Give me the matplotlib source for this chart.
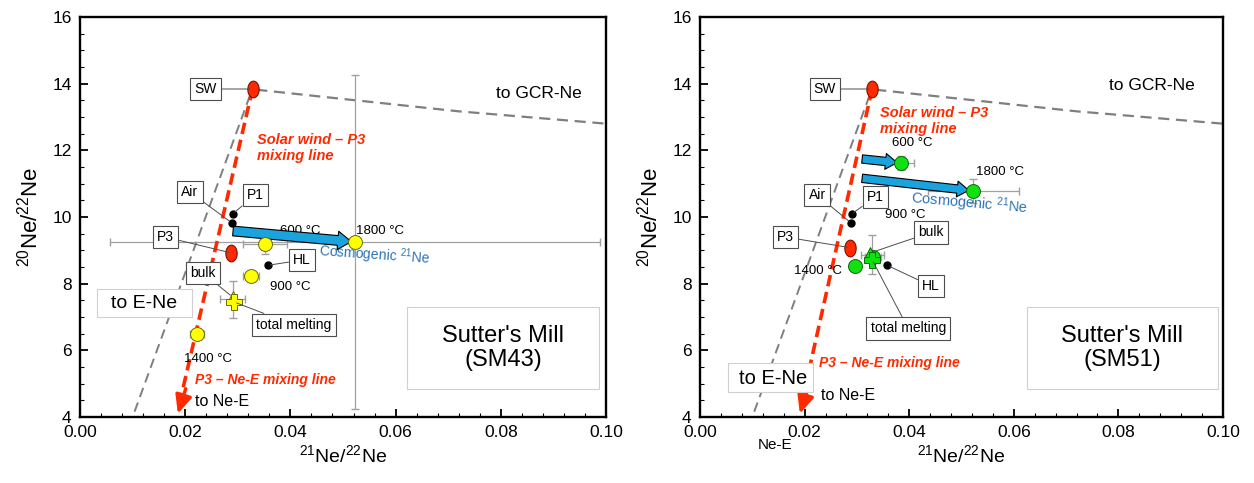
import numpy as np
import matplotlib.pyplot as plt
from matplotlib.path import Path
from matplotlib.patches import Rectangle
from matplotlib.ticker import MultipleLocator, FormatStrFormatter

plt.rcParams['font.family'] = ['Liberation Sans', 'DejaVu Sans']
plt.rcParams['mathtext.default'] = 'regular'

# ---- data (21Ne/22Ne, 20Ne/22Ne) ----
# end-members: SW, Air, P1, P3, HL
em_names = ['SW', 'Air', 'P1', 'P3', 'HL']
em_x_sm43 = [0.0328, 0.0289, 0.0290, 0.0288, 0.0357]
em_y_sm43 = [13.84, 9.82, 10.09, 8.92, 8.55]
em_x_sm51 = [0.0329, 0.0289, 0.0290, 0.0287, 0.0358]
em_y_sm51 = [13.84, 9.82, 10.09, 9.08, 8.55]

# stepwise heating, SM43
steps = ['600 °C', '900 °C', '1400 °C', '1800 °C']
x_sm43 = [0.0352, 0.0325, 0.0222, 0.0523]
y_sm43 = [9.19, 8.22, 6.48, 9.25]
xerr_sm43 = [0.0042, 0.0015, 0.0013, 0.0466]
yerr_sm43 = [0.30, 0.12, 0.10, 5.00]

# stepwise heating, SM51
x_sm51 = [0.0384, 0.0331, 0.0296, 0.0522]
y_sm51 = [11.62, 8.80, 8.53, 10.78]
xerr_sm51 = [0.0025, 0.0015, 0.0012, 0.0087]
yerr_sm51 = [0.20, 0.15, 0.12, 0.35]

# bulk and total melting
bulk_sm43 = [0.0290, 7.60]
melt_sm43 = [0.0293, 7.45]
bulk_err_sm43 = [0.0023, 0.55]
bulk_sm51 = [0.0325, 8.92]
melt_sm51 = [0.0329, 8.72]
bulk_err_sm51 = [0.0022, 0.58]

# trend lines
gcr_x = [0.0335, 0.072, 0.100]
gcr_y = [13.82, 13.17, 12.80]
nee_tip_sm43 = [0.0186, 4.10]
nee_tip_sm51 = [0.0191, 4.10]
ene_end = [0.0100, 4.00]

# cosmogenic shift arrows
cosmo_start_sm43 = [[0.0291, 9.58]]
cosmo_end_sm43 = [[0.0516, 9.26]]
cosmo_start_sm51 = [[0.0310, 11.74], [0.0310, 11.16]]
cosmo_end_sm51 = [[0.0377, 11.63], [0.0514, 10.80]]

RED = '#ff2a00'
BLUE_TXT = '#2e75b6'
BLUE_ARR = '#1aa3dc'
YELLOW = '#ffff00'
GREEN = '#11e011'
GREY = '#7f7f7f'
LEAD = '#4d4d4d'

t = np.linspace(0, 2 * np.pi, 60)
ellipse = Path(np.column_stack([0.68 * np.cos(t), np.sin(t)]), closed=True)

fig = plt.figure(figsize=(12.54, 4.83), dpi=100)
ax1 = fig.add_axes([80 / 1254, 66 / 483, 526 / 1254, 400 / 483])
ax2 = fig.add_axes([700 / 1254, 66 / 483, 523 / 1254, 400 / 483])


def boxlabel(ax, text, xytext, xy, fs=10):
    ax.annotate(text, xy=xy, xytext=xytext, ha='center', va='center', fontsize=fs,
                bbox=dict(boxstyle='square,pad=0.3', fc='white', ec=LEAD, lw=0.8),
                arrowprops=dict(arrowstyle='-', color=LEAD, lw=0.7, shrinkA=0, shrinkB=2),
                zorder=6)


def base(ax, emx, emy, tip):
    ax.set_xlim(0, 0.1)
    ax.set_ylim(4, 16)
    ax.xaxis.set_major_locator(MultipleLocator(0.02))
    ax.xaxis.set_minor_locator(MultipleLocator(0.004))
    ax.yaxis.set_major_locator(MultipleLocator(2))
    ax.yaxis.set_minor_locator(MultipleLocator(0.5))
    ax.xaxis.set_major_formatter(FormatStrFormatter('%.2f'))
    ax.tick_params(which='major', direction='in', length=6, width=1.3, labelsize=12.5, pad=6)
    ax.tick_params(which='minor', direction='in', length=3, width=0.8)
    for s in ax.spines.values():
        s.set_linewidth(1.7)
    ax.set_xlabel('$^{21}$Ne/$^{22}$Ne', fontsize=14, labelpad=3)
    ax.set_ylabel('$^{20}$Ne/$^{22}$Ne', fontsize=16, labelpad=7)

    sw = (emx[0], emy[0])
    # grey trend lines
    ax.plot([sw[0] - 0.0005, ene_end[0]], [sw[1] - 0.2, ene_end[1]], ls=(0, (5, 3)),
            color=GREY, lw=1.4, zorder=1, clip_on=False)
    ax.plot(gcr_x, gcr_y, ls=(0, (5, 3)), color=GREY, lw=1.6, zorder=1)
    # red mixing line SW - P3 - Ne-E
    ax.plot([sw[0], tip[0] + 0.0006], [sw[1], tip[1] + 0.5], ls=(0, (3.2, 1.6)),
            color=RED, lw=2.6, zorder=3)
    ax.annotate('', xy=tip, xytext=(tip[0] + 0.0015, tip[1] + 0.75),
                arrowprops=dict(arrowstyle='-|>,head_length=1.1,head_width=0.5',
                                color=RED, lw=2.4, shrinkA=0, shrinkB=0), zorder=3)
    # end-members
    ax.plot(emx[1:3] + [emx[4]], emy[1:3] + [emy[4]], 'o', ms=5, color='black', zorder=5)
    ax.plot([emx[0], emx[3]], [emy[0], emy[3]], ls='none', marker=ellipse, ms=12,
            mfc=RED, mec='#7a1000', mew=0.8, zorder=5)
    boxlabel(ax, 'SW', (sw[0] - 0.009, sw[1]), sw)


def cosmo_arrows(ax, starts, ends, ms):
    for s, e in zip(starts, ends):
        ax.annotate('', xy=e, xytext=s,
                    arrowprops=dict(arrowstyle='simple,head_length=0.7,head_width=0.95,tail_width=0.5',
                                    fc=BLUE_ARR, ec='black', lw=0.8, mutation_scale=ms,
                                    shrinkA=0, shrinkB=0), zorder=4)


def mill_box(ax, name, x0, x1):
    ax.add_patch(Rectangle((x0, 4.84), x1 - x0, 2.46, fc='white', ec='#d0d0d0', lw=0.8, zorder=1))
    ax.text((x0 + x1) / 2, 6.07, "Sutter's Mill\n(" + name + ')', ha='center', va='center',
            fontsize=17, linespacing=1.15)


sol_kw = dict(color=RED, fontsize=10.5, fontweight='bold', fontstyle='italic')
nee_kw = dict(color=RED, fontsize=10, fontweight='bold', fontstyle='italic')

# ---------------- SM43 ----------------
ax = ax1
base(ax, em_x_sm43, em_y_sm43, nee_tip_sm43)
ax.errorbar(x_sm43, y_sm43, xerr=xerr_sm43, yerr=yerr_sm43, fmt='none', ecolor='#a0a0a0',
            elinewidth=0.9, capsize=3, zorder=2)
ax.errorbar([bulk_sm43[0]], [bulk_sm43[1] - 0.07], xerr=bulk_err_sm43[0], yerr=bulk_err_sm43[1],
            fmt='none', ecolor='#a0a0a0', elinewidth=0.9, capsize=3, zorder=2)
cosmo_arrows(ax, cosmo_start_sm43, cosmo_end_sm43, 14)
ax.plot(x_sm43, y_sm43, 'o', ms=10, mfc=YELLOW, mec='#6b6b00', mew=0.7, zorder=5)
ax.plot(*bulk_sm43, '^', ms=9, mfc=YELLOW, mec='#6b6b00', mew=0.7, zorder=5)
ax.plot(*melt_sm43, 'P', ms=11, mfc=YELLOW, mec='#6b6b00', mew=0.7, zorder=5)

boxlabel(ax, 'Air', (0.0209, 10.75), (em_x_sm43[1], em_y_sm43[1]))
boxlabel(ax, 'P1', (0.0333, 10.66), (em_x_sm43[2], em_y_sm43[2]))
boxlabel(ax, 'P3', (0.0162, 9.40), (em_x_sm43[3], em_y_sm43[3]))
boxlabel(ax, 'HL', (0.0422, 8.71), (em_x_sm43[4], em_y_sm43[4]))
boxlabel(ax, 'bulk', (0.0234, 8.32), bulk_sm43)
boxlabel(ax, 'total melting', (0.0407, 6.76), melt_sm43)

ax.text(0.0418, 9.58, steps[0], ha='center', va='center', fontsize=9.5)
ax.text(0.0399, 7.90, steps[1], ha='center', va='center', fontsize=9.5)
ax.text(0.0244, 5.74, steps[2], ha='center', va='center', fontsize=9.5)
ax.text(0.0570, 9.58, steps[3], ha='center', va='center', fontsize=9.5)
ax.text(0.0453, 8.86, 'Cosmogenic $^{21}$Ne', color=BLUE_TXT, fontsize=10, ha='left',
        va='center', rotation=-4)
ax.text(0.0337, 12.07, 'Solar wind – P3\nmixing line', ha='left', va='center', linespacing=1.2, **sol_kw)
ax.text(0.0219, 5.10, 'P3 – Ne-E mixing line', ha='left', va='center', **nee_kw)
ax.text(0.0873, 13.72, 'to GCR-Ne', ha='center', va='center', fontsize=12.5)
ax.text(0.0270, 4.45, 'to Ne-E', ha='center', va='center', fontsize=11.5)
ax.add_patch(Rectangle((0.0032, 7.00), 0.0181, 0.84, fc='white', ec='#d0d0d0', lw=0.8, zorder=6))
ax.text(0.0122, 7.40, 'to E-Ne', ha='center', va='center', fontsize=14, zorder=7)
mill_box(ax, 'SM43', 0.0622, 0.0987)

# ---------------- SM51 ----------------
ax = ax2
base(ax, em_x_sm51, em_y_sm51, nee_tip_sm51)
ax.errorbar(x_sm51, y_sm51, xerr=xerr_sm51, yerr=yerr_sm51, fmt='none', ecolor='#a0a0a0',
            elinewidth=0.9, capsize=3, zorder=2)
ax.errorbar([melt_sm51[0]], [bulk_sm51[1] - 0.05], xerr=bulk_err_sm51[0], yerr=bulk_err_sm51[1],
            fmt='none', ecolor='#a0a0a0', elinewidth=0.9, capsize=3, zorder=2)
cosmo_arrows(ax, cosmo_start_sm51, cosmo_end_sm51, 12)
ax.plot(x_sm51, y_sm51, 'o', ms=10, mfc=GREEN, mec='#0a6a0a', mew=0.7, zorder=5)
ax.plot(*bulk_sm51, '^', ms=9, mfc=GREEN, mec='#0a6a0a', mew=0.7, zorder=5)
ax.plot(*melt_sm51, 'P', ms=11, mfc=GREEN, mec='#0a6a0a', mew=0.7, zorder=5)

boxlabel(ax, 'Air', (0.0224, 10.66), (em_x_sm51[1], em_y_sm51[1]))
boxlabel(ax, 'P1', (0.0335, 10.60), (em_x_sm51[2], em_y_sm51[2]))
boxlabel(ax, 'P3', (0.0163, 9.40), (em_x_sm51[3], em_y_sm51[3]))
boxlabel(ax, 'HL', (0.0442, 7.93), (em_x_sm51[4], em_y_sm51[4]))
boxlabel(ax, 'bulk', (0.0442, 9.54), bulk_sm51)
boxlabel(ax, 'total melting', (0.0398, 6.66), melt_sm51)

ax.text(0.0405, 12.22, steps[0], ha='center', va='center', fontsize=9.5)
ax.text(0.0392, 10.06, steps[1], ha='center', va='center', fontsize=9.5)
ax.text(0.0226, 8.37, steps[2], ha='center', va='center', fontsize=9.5)
ax.text(0.0574, 11.35, steps[3], ha='center', va='center', fontsize=9.5)
ax.text(0.0402, 10.40, 'Cosmogenic $^{21}$Ne', color=BLUE_TXT, fontsize=10.5, ha='left',
        va='center', rotation=-5)
ax.text(0.0344, 12.87, 'Solar wind – P3\nmixing line', ha='left', va='center', linespacing=1.2, **sol_kw)
ax.text(0.0228, 5.62, 'P3 – Ne-E mixing line', ha='left', va='center', **nee_kw)
ax.text(0.0864, 13.96, 'to GCR-Ne', ha='center', va='center', fontsize=12.5)
ax.text(0.0283, 4.65, 'to Ne-E', ha='center', va='center', fontsize=11.5)
ax.text(0.0143, 3.16, 'Ne-E', ha='center', va='center', fontsize=11, clip_on=False)
ax.add_patch(Rectangle((0.0054, 4.75), 0.0162, 0.87, fc='white', ec='#d0d0d0', lw=0.8, zorder=6))
ax.text(0.0140, 5.17, 'to E-Ne', ha='center', va='center', fontsize=14.5, zorder=7)
mill_box(ax, 'SM51', 0.0625, 0.0990)

fig.savefig('out.png', dpi=100)
